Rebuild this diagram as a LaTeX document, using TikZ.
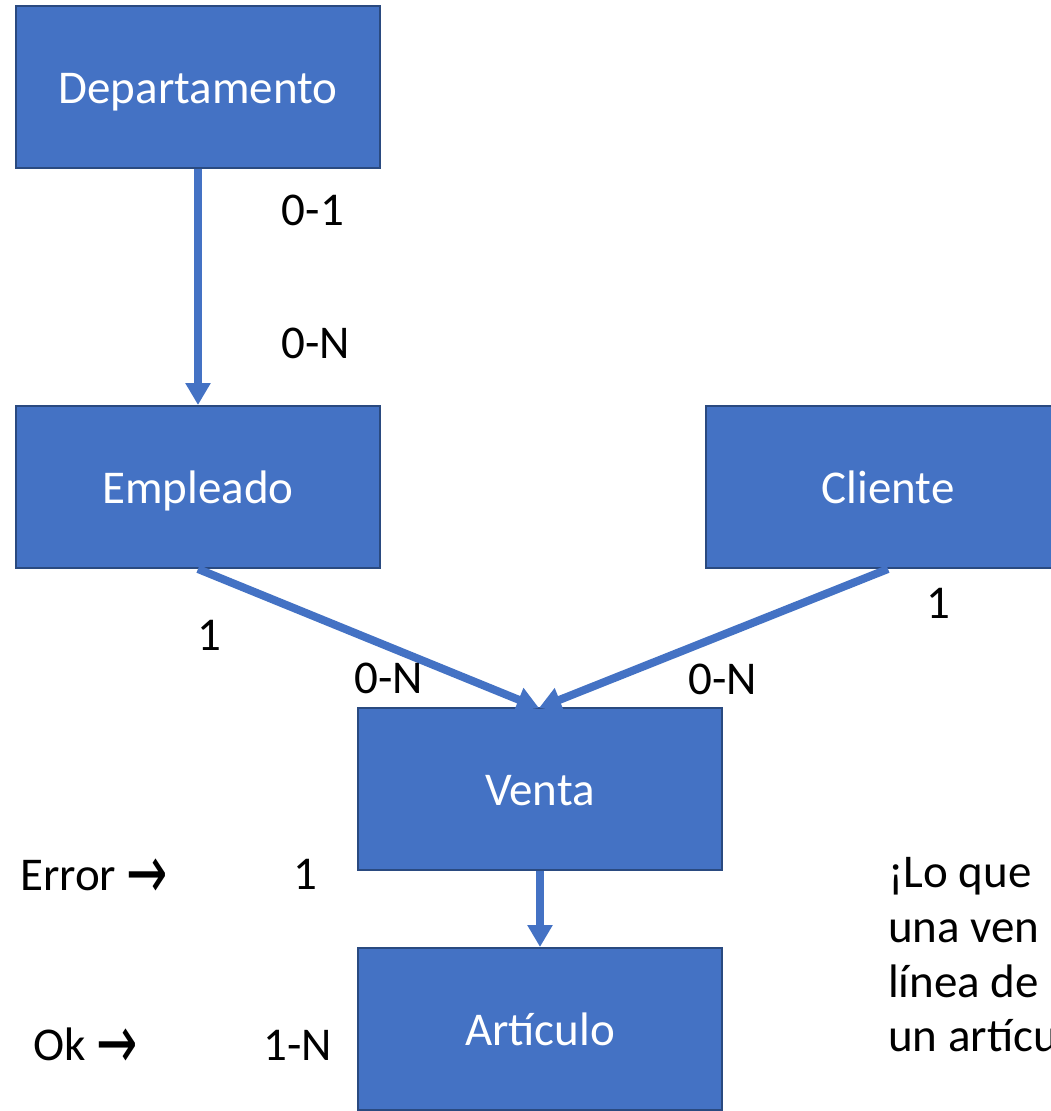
\documentclass[tikz,border=0pt]{standalone}
\usepackage{fontspec}
\usepackage{graphicx}
\setmainfont{Carlito}
\newfontfamily\symfont{DejaVu Sans}
\usetikzlibrary{arrows.meta}
\definecolor{boxfill}{HTML}{4472C4}
\definecolor{boxline}{HTML}{2A4A80}
\newcommand{\bigarrow}{\raisebox{-8pt}{\scalebox{1.05}[1.6]{\symfont→}}}
\tikzset{
  entity/.style={rectangle, draw=boxline, fill=boxfill, line width=2pt,
    minimum width=364pt, minimum height=162pt, inner sep=0pt,
    text=white, text height=32pt, text depth=0pt,
    font=\fontsize{47}{56}\selectfont},
  conn/.style={draw=boxfill, line width=8pt,
    -{Triangle[width=24pt,length=22pt]}},
  lbl/.style={inner sep=0pt, anchor=base, font=\fontsize{47}{56}\selectfont},
  lbll/.style={inner sep=0pt, anchor=base west, font=\fontsize{47}{56}\selectfont}
}
\begin{document}
\begin{tikzpicture}[x=1pt,y=-1pt]
\useasboundingbox (0,0) rectangle (1051,1111);
\clip (0,0) rectangle (1051,1111);
\fill[white] (0,0) rectangle (1051,1111);

\node[entity] (dep) at (198,87) {Departamento};
\node[entity] (emp) at (198,487) {Empleado};
\node[entity] (cli) at (888,487) {Cliente};
\node[entity] (ven) at (540,789) {Venta};
\node[entity] (art) at (540,1029) {Artículo};

\coordinate (vtip) at (539,708);
\draw[conn] (dep.south) -- (emp.north);
\draw[conn] (emp.south) -- (vtip);
\draw[conn] (cli.south) -- (vtip);
\draw[conn] (ven.south) -- (art.north);

\node[lbl] (l01) at (313,225) {0-1};
\node[lbl] (l0n) at (316,358) {0-N};
\node[lbl] (l1a) at (209,650) {1};
\node[lbl] (l0nb) at (389,693) {0-N};
\node[lbl] (l0nc) at (723,694) {0-N};
\node[lbl] (l1b) at (938,618) {1};
\node[lbl] (l1c) at (305,889) {1};
\node[lbl] (l1n) at (298,1060) {1-N};

\node[lbll] (err) at (20,890) {Error \bigarrow};
\node[lbll] (ok) at (33,1060) {Ok \bigarrow};

\node[lbll] (t1) at (888,887) {¡Lo que};
\node[lbll] (t2) at (888,942) {una ven};
\node[lbll] (t3) at (888,997) {línea de};
\node[lbll] (t4) at (888,1051) {un artícu};
\end{tikzpicture}
\end{document}
